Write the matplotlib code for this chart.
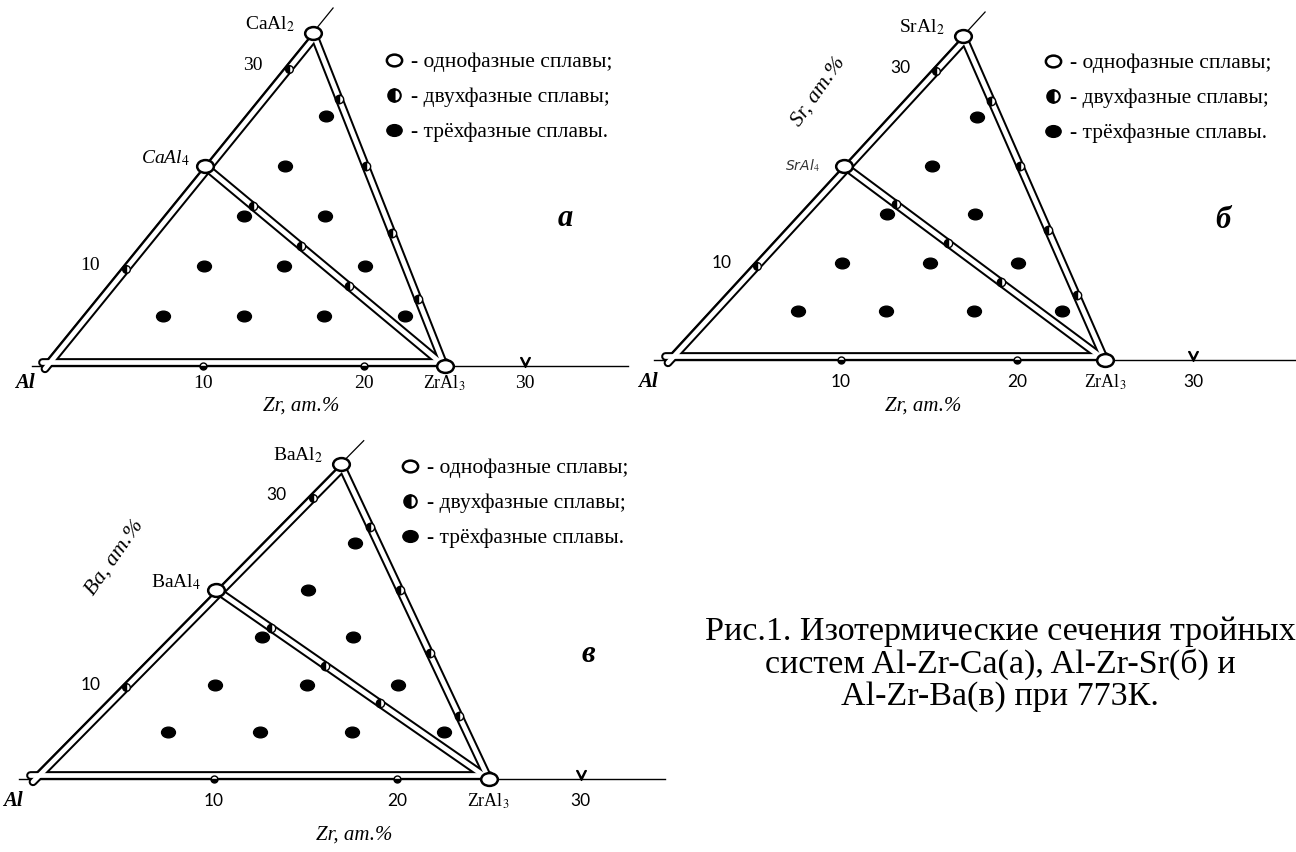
import numpy as np
import matplotlib
matplotlib.use('Agg')
import matplotlib.pyplot as plt
from matplotlib.path import Path
from matplotlib.lines import Line2D
from matplotlib.transforms import Affine2D, ScaledTranslation

plt.rcParams['font.family'] = ['Liberation Serif', 'DejaVu Serif']
plt.rcParams['mathtext.fontset'] = 'stix'

# compositions, at.% (Zr, M) ; M = Ca / Sr / Ba
m_al4 = 20.0
m_al2 = 33.33
zr_al3 = 25.0

# three-phase alloys
zr_3ph = [5, 10, 15, 20, 5, 10, 15, 5, 10, 5, 5]
m_3ph = [5, 5, 5, 5, 10, 10, 10, 15, 15, 20, 25]

# two-phase alloys on MAl2-ZrAl3 and MAl4-ZrAl3
zr_2ph_a = [5, 10, 15, 20]
m_2ph_a = [26.67, 20.0, 13.33, 6.67]
zr_2ph_b = [5, 10, 15]
m_2ph_b = [16.0, 12.0, 8.0]

ticks_m = [10, 30]
ticks_zr = [10, 20]
ticks_zr_far = [30]

legend_labels = ['- однофазные сплавы;', '- двухфазные сплавы;', '- трёхфазные сплавы.']

caption = ('Рис.1. Изотермические сечения тройных\n'
           'систем Al-Zr-Ca(а), Al-Zr-Sr(б) и\n'
           'Al-Zr-Ba(в) при 773К.')

W, H = 1296, 852

circ = Path.unit_circle()
ellipse = Path(circ.vertices * np.array([1.3, 1.0]), circ.codes)

# panel layout: origin pixel (x, y from top), px per Zr %, px per M %, shear
panels = [
    dict(elem='Ca', letter='а', x0=42, y0=366, sx=16.1, sy=10.0, k=0.505,
         al4_it=True, side_label=False, zr_end=36.4, tick_font='Liberation Serif',
         lab_dy=17, zr_dy=40, leg=(384, 50), letter_pos=(565, 218), zr_lab_x=301),
    dict(elem='Sr', letter='б', x0=665, y0=360, sx=17.6, sy=9.72, k=0.508,
         al4_it=True, side_label=True, zr_end=36.0, tick_font='Lato',
         lab_dy=22, zr_dy=46, leg=(1043, 51), letter_pos=(1223, 220), zr_lab_x=923,
         side_pos=(818, 92)),
    dict(elem='Ba', letter='в', x0=30, y0=779, sx=18.35, sy=9.45, k=0.508,
         al4_it=False, side_label=True, zr_end=34.6, tick_font='Lato',
         lab_dy=22, zr_dy=56, leg=(400, 456), letter_pos=(588, 655), zr_lab_x=354,
         side_pos=(115, 558)),
]

fig = plt.figure(figsize=(W / 100, H / 100), dpi=100)

for p in panels:
    ax = fig.add_axes([0, 0, 1, 1])
    ax.set_xlim(-p['x0'] / p['sx'], (W - p['x0']) / p['sx'])
    ax.set_ylim(-(H - p['y0']) / p['sy'], p['y0'] / p['sy'])
    ax.axis('off')
    ax.patch.set_alpha(0)
    tern = Affine2D(np.array([[1, p['k'], 0], [0, 1, 0], [0, 0, 1]])) + ax.transData
    up = tern + ScaledTranslation(0, 0.04, fig.dpi_scale_trans)
    inward = tern + ScaledTranslation(0.03, -0.028, fig.dpi_scale_trans)

    # thin axes
    ax.plot([0, 0], [0, 35.8], color='black', lw=0.9, transform=tern)
    ax.plot([-0.6, p['zr_end']], [0, 0], color='black', lw=1.0, transform=tern)

    # double-line edges of the triangles
    edges = [
        ([0, zr_al3], [0, 0], up),
        ([0, 0], [0, m_al2], inward),
        ([0, zr_al3], [m_al2, 0], tern),
        ([0, zr_al3], [m_al4, 0], tern),
    ]
    for xs, ys, tr in edges:
        ax.plot(xs, ys, color='black', lw=6.3, transform=tr, solid_capstyle='round')
    for xs, ys, tr in edges:
        ax.plot(xs, ys, color='white', lw=3.4, transform=tr, solid_capstyle='round')

    # tick marks
    ax.plot([0] * len(ticks_m), ticks_m, ls='none', marker='o', ms=5.5,
            fillstyle='left', mfc='black', mfcalt='white', mec='black', mew=1,
            transform=inward)
    ax.plot(ticks_zr, [0] * len(ticks_zr), ls='none', marker='o', ms=5,
            fillstyle='bottom', mfc='black', mfcalt='white', mec='black', mew=1,
            transform=tern)
    ax.plot(ticks_zr_far, [0] * len(ticks_zr_far), ls='none', marker=r'$\vee$',
            ms=7, color='black', transform=up)

    # alloys
    ax.plot(zr_3ph, m_3ph, ls='none', marker=ellipse, ms=10, mfc='black', mec='black',
            transform=tern)
    ax.plot(zr_2ph_a + zr_2ph_b, m_2ph_a + m_2ph_b, ls='none', marker='o', ms=6,
            fillstyle='left', mfc='black', mfcalt='white', mec='black', mew=1,
            transform=tern)
    ax.plot([0, 0, zr_al3], [m_al4, m_al2, 0], ls='none', marker=ellipse, ms=12,
            mfc='white', mec='black', mew=1.8, transform=tern)

    # labels
    e = p['elem']
    tf = p['tick_font']
    tsize = 14 if tf != 'Lato' else 12.5
    for m in ticks_m:
        ax.annotate(str(m), (0, m), xycoords=tern, xytext=(-33, 0),
                    textcoords='offset pixels', ha='center', va='center',
                    fontsize=tsize, family=tf)
    for z in ticks_zr + ticks_zr_far:
        ax.annotate(str(z), (z, 0), xycoords=tern, xytext=(0, -p['lab_dy']),
                    textcoords='offset pixels', ha='center', va='center',
                    fontsize=tsize, family=tf)
    ax.annotate('ZrAl$_3$', (zr_al3, 0), xycoords=tern, xytext=(0, -p['lab_dy']),
                textcoords='offset pixels', ha='center', va='center', fontsize=13)
    ax.annotate('Al', (0, 0), xycoords=tern, xytext=(-17, -p['lab_dy']),
                textcoords='offset pixels', ha='center', va='center', fontsize=15,
                style='italic', weight='bold')
    ax.annotate(e + 'Al$_2$', (0, m_al2), xycoords=tern, xytext=(-18, 9),
                textcoords='offset pixels', ha='right', va='center', fontsize=14)
    if e == 'Sr':
        ax.annotate('SrAl$_4$', (0, m_al4), xycoords=tern, xytext=(-24, 0),
                    textcoords='offset pixels', ha='right', va='center', fontsize=10,
                    style='italic', family='DejaVu Sans', color='#333333')
    else:
        ax.annotate(e + 'Al$_4$', (0, m_al4), xycoords=tern, xytext=(-15, 8),
                    textcoords='offset pixels', ha='right', va='center', fontsize=14,
                    style='italic' if p['al4_it'] else 'normal')
    fig.text(p['zr_lab_x'] / W, 1 - (p['y0'] + p['zr_dy']) / H, 'Zr, ат.%',
             ha='center', va='center', fontsize=15, style='italic')
    if p['side_label']:
        fig.text(p['side_pos'][0] / W, 1 - p['side_pos'][1] / H, e + ', ат.%',
                 ha='center', va='center', fontsize=16, style='italic', rotation=55)
    lx, ly = p['letter_pos']
    fig.text(lx / W, 1 - ly / H, p['letter'], ha='center', va='center', fontsize=22,
             style='italic', weight='bold')

    handles = [
        Line2D([], [], ls='none', marker=ellipse, ms=11, mfc='white', mec='black', mew=1.8),
        Line2D([], [], ls='none', marker='o', ms=9, fillstyle='left', mfc='black',
               mfcalt='white', mec='black', mew=1.5),
        Line2D([], [], ls='none', marker=ellipse, ms=11, mfc='black', mec='black'),
    ]
    lgx, lgy = p['leg']
    ax.legend(handles, legend_labels, loc='upper left',
              bbox_to_anchor=(lgx / W, 1 - (lgy + 2) / H), bbox_transform=fig.transFigure,
              frameon=False, handlelength=0.9, handletextpad=0.35, labelspacing=0.7,
              borderpad=0, borderaxespad=0, prop={'size': 15.5})

fig.text(1000 / W, 1 - 664 / H, caption, ha='center', va='center', fontsize=24.5,
         linespacing=1.05)

fig.savefig('out.png', dpi=100)
